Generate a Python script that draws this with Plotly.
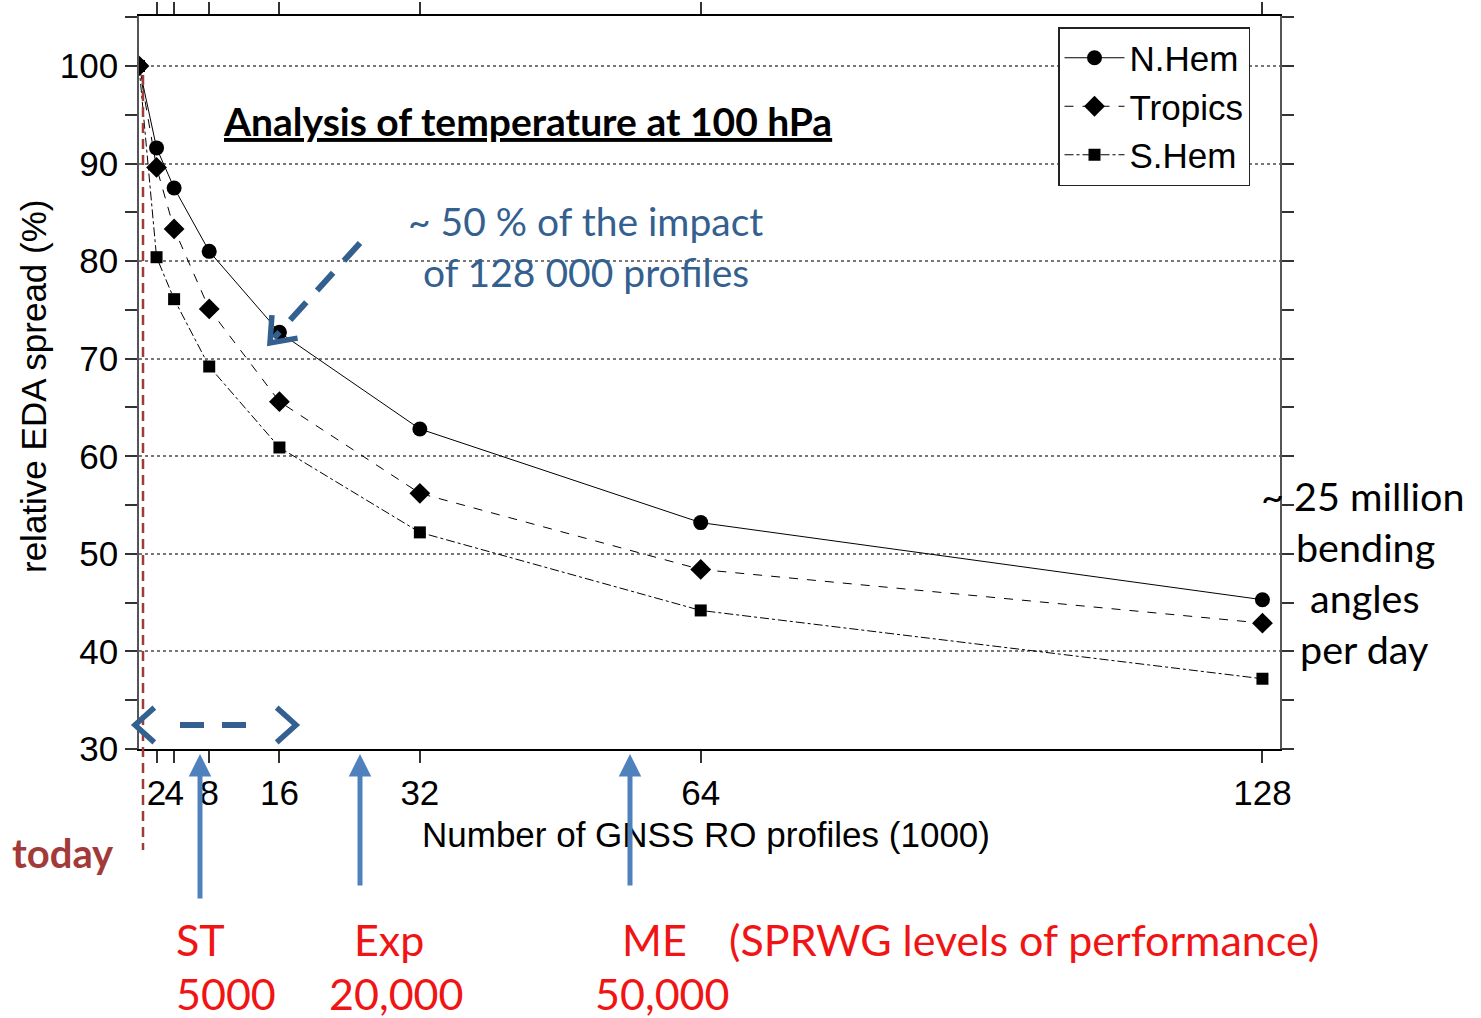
import plotly.graph_objects as go
import math

# ---- data ----
profiles = [0, 2, 4, 8, 16, 32, 64, 128]
nhem = [100, 91.6, 87.5, 81.0, 72.7, 62.8, 53.2, 45.3]
tropics = [100, 89.6, 83.3, 75.1, 65.6, 56.2, 48.4, 42.9]
shem = [100, 80.4, 76.1, 69.2, 60.9, 52.2, 44.2, 37.2]
x_tickvals = [2, 4, 8, 16, 32, 64, 128]
x_ticktext = ["2", "4", "8", "16", "32", "64", "128"]

W, H = 1481, 1018
L, R, T, B = 139, 1280, 16, 749


def px(x):
    return (x - L) / (R - L)


def py(y):
    return (B - y) / (B - T)


ARIAL = "Liberation Sans, Arial, sans-serif"
CAL = "Lato, Carlito, Calibri, sans-serif"
DARKBLUE = "#34608F"
LIGHTBLUE = "#4F81BD"
RED = "#F01414"
TODAY = "#A33A3A"

fig = go.Figure()
fig.add_trace(go.Scatter(x=profiles, y=nhem, name="N.Hem", mode="lines+markers",
                         line=dict(color="black", width=1, dash="solid"),
                         marker=dict(symbol="circle", size=15, color="black")))
fig.add_trace(go.Scatter(x=profiles, y=tropics, name="Tropics", mode="lines+markers",
                         line=dict(color="black", width=1, dash="dash"),
                         marker=dict(symbol="diamond", size=16, color="black")))
fig.add_trace(go.Scatter(x=profiles, y=shem, name="S.Hem", mode="lines+markers",
                         line=dict(color="black", width=1, dash="dashdot"),
                         marker=dict(symbol="square", size=12, color="black")))

shapes = []
# today line
shapes.append(dict(type="line", xref="paper", yref="paper",
                   x0=px(143), x1=px(143), y0=py(75), y1=py(850),
                   line=dict(color=TODAY, width=2.5, dash="10px,6px")))


def chevron(tx, ty, dx, dy, length=28, ang=38):
    n = math.hypot(dx, dy)
    bx, by = -dx / n, -dy / n
    pts = []
    for s in (1, -1):
        a = math.radians(ang * s)
        rx = bx * math.cos(a) - by * math.sin(a)
        ry = bx * math.sin(a) + by * math.cos(a)
        pts.append((tx + rx * length, ty + ry * length))
    path = (f"M {px(pts[0][0])},{py(pts[0][1])} L {px(tx)},{py(ty)} "
            f"L {px(pts[1][0])},{py(pts[1][1])}")
    return dict(type="path", xref="paper", yref="paper", path=path,
                line=dict(color=DARKBLUE, width=5.5))


shapes.append(dict(type="line", xref="paper", yref="paper",
                   x0=px(360), y0=py(243), x1=px(274), y1=py(338),
                   line=dict(color=DARKBLUE, width=6, dash="24px,16px")))
shapes.append(chevron(270, 343, -90, 100))
shapes.append(dict(type="line", xref="paper", yref="paper",
                   x0=px(180), y0=py(725), x1=px(252), y1=py(725),
                   line=dict(color=DARKBLUE, width=6, dash="24px,18px")))
shapes.append(chevron(135, 725, -1, 0, length=26, ang=42))
shapes.append(chevron(296, 725, 1, 0, length=26, ang=42))

ann = []
ann.append(dict(text="Number of GNSS RO profiles (1000)", xref="paper", yref="paper",
                x=px(706), y=py(834), xanchor="center", yanchor="middle", showarrow=False,
                font=dict(family=ARIAL, size=35, color="black")))
ann.append(dict(text="relative EDA spread (%)", xref="paper", yref="paper",
                x=px(33), y=py(387), xanchor="center", yanchor="middle", showarrow=False,
                textangle=-90, font=dict(family=ARIAL, size=35, color="black")))
ann.append(dict(text="<b><u>Analysis of temperature at 100 hPa</u></b>", xref="paper", yref="paper",
                x=px(527), y=py(121), xanchor="center", yanchor="middle", showarrow=False,
                font=dict(family=CAL, size=39, color="black")))
ann.append(dict(text="~ 50 % of the impact", xref="paper", yref="paper",
                x=px(585), y=py(221), xanchor="center", yanchor="middle", showarrow=False,
                font=dict(family=CAL, size=39, color=DARKBLUE)))
ann.append(dict(text="of 128 000 profiles", xref="paper", yref="paper",
                x=px(586), y=py(272), xanchor="center", yanchor="middle", showarrow=False,
                font=dict(family=CAL, size=39, color=DARKBLUE)))
for txt, cx, cy in [("~ 25 million", 1363, 495), ("bending", 1365, 546),
                    ("angles", 1365, 597), ("per day", 1364, 648)]:
    ann.append(dict(text=txt, xref="paper", yref="paper", x=px(cx), y=py(cy),
                    xanchor="center", yanchor="middle", showarrow=False,
                    font=dict(family=CAL, size=39.5, color="black")))
ann.append(dict(text="<b>today</b>", xref="paper", yref="paper", x=px(63), y=py(853),
                xanchor="center", yanchor="middle", showarrow=False,
                font=dict(family=CAL, size=40, color=TODAY)))
for txt, cx, cy in [("ST", 200, 939), ("5000", 226, 993), ("Exp", 389, 939),
                    ("20,000", 396, 993), ("ME", 654, 939), ("50,000", 662, 993),
                    ("(SPRWG levels of performance)", 1024, 939)]:
    ann.append(dict(text=txt, xref="paper", yref="paper", x=px(cx), y=py(cy),
                    xanchor="center", yanchor="middle", showarrow=False, borderpad=0,
                    font=dict(family=CAL, size=43, color=RED)))
for xa, ytail in [(200, 900), (360, 887), (630, 887)]:
    ann.append(dict(text="", xref="paper", yref="paper", x=px(xa), y=py(754),
                    ax=0, ay=ytail - 754, axref="pixel", ayref="pixel",
                    showarrow=True, arrowhead=2, arrowsize=0.9, arrowwidth=5,
                    arrowcolor=LIGHTBLUE))

fig.update_layout(
    width=W, height=H,
    margin=dict(l=L, r=W - R, t=T, b=H - B, autoexpand=False),
    paper_bgcolor="white", plot_bgcolor="white",
    showlegend=True,
    legend=dict(x=px(1058), y=py(27), xanchor="left", yanchor="top",
                bgcolor="white", bordercolor="#222", borderwidth=1.5,
                font=dict(family=ARIAL, size=35, color="black"),
                itemwidth=60, tracegroupgap=0),
    shapes=shapes,
    annotations=ann,
)
fig.update_xaxes(range=[0, 130], tickvals=x_tickvals, ticktext=x_ticktext, tickangle=0,
                 ticks="outside", ticklen=12, tickwidth=1.5, tickcolor="#333",
                 showline=True, linecolor="black", linewidth=1.5, mirror="ticks",
                 showgrid=False, zeroline=False, automargin=False,
                 tickfont=dict(family=ARIAL, size=35, color="black"))
fig.update_yaxes(range=[30, 105.12], tick0=30, dtick=10,
                 ticks="outside", ticklen=12, tickwidth=1.5, tickcolor="#333",
                 minor=dict(dtick=5, ticklen=12, tickwidth=1.5, tickcolor="#333", showgrid=False, ticks="outside"),
                 showline=True, linecolor="#555", linewidth=1.5, mirror="ticks",
                 showgrid=True, gridcolor="#777", griddash="dot", gridwidth=1.5,
                 zeroline=False, automargin=False,
                 tickfont=dict(family=ARIAL, size=35, color="black"))

fig.write_html("out.html")
